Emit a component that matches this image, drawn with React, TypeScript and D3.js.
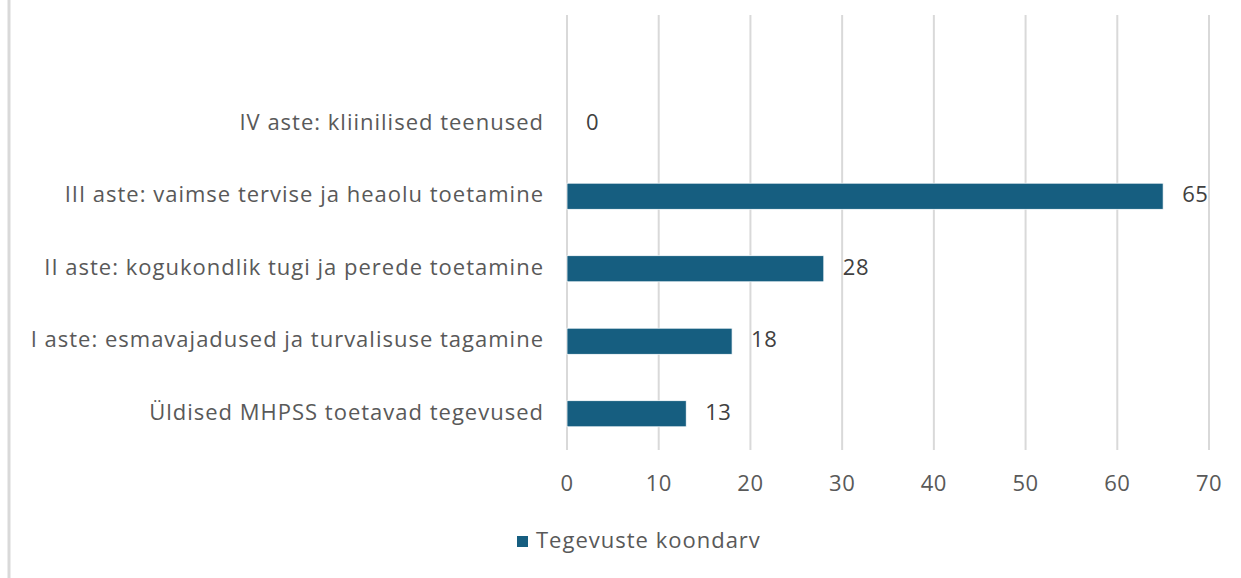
import * as d3 from 'd3'

const categories = [
  '',
  'IV aste: kliinilised teenused',
  'III aste: vaimse tervise ja heaolu toetamine',
  'II aste: kogukondlik tugi ja perede toetamine',
  'I aste: esmavajadused ja turvalisuse tagamine',
  'Üldised MHPSS toetavad tegevused',
]
const values = [null, 0, 65, 28, 18, 13]
const xTicks = [0, 10, 20, 30, 40, 50, 60, 70]
const seriesName = 'Tegevuste koondarv'

const W = 1241
const H = 578
const FONT = '"Open Sans", "Liberation Sans", Arial, sans-serif'
const TEXT = '#595959'
const GRID = '#d9d9d9'
const BAR = '#165e80'
const FS = 22
const LS = 1

export default function App() {
  const x = d3.scaleLinear().domain([0, 70]).range([567, 1209])
  const y = d3.scaleBand().domain(categories).range([15, 450]).paddingInner(0.64).paddingOuter(0.32)

  return (
    <svg
      width={W}
      height={H}
      style={{ position: 'absolute', left: 0, top: 0, background: '#fff' }}
      fontFamily={FONT}
    >
      <rect width={W} height={H} fill="#fff" />
      <line x1={9} x2={9} y1={0} y2={H} stroke={GRID} strokeWidth={3} />

      {xTicks.map((t) => (
        <g key={t}>
          <line x1={x(t)} x2={x(t)} y1={15} y2={450} stroke={GRID} strokeWidth={2} />
          <text x={x(t)} y={485} textAnchor="middle" dominantBaseline="middle" fontSize={FS} letterSpacing={0.5} fill={TEXT}>
            {t}
          </text>
        </g>
      ))}

      {categories.map((c, i) => {
        const v = values[i]
        if (v === null) return null
        const yc = (y(c) ?? 0) + y.bandwidth() / 2
        return (
          <g key={c}>
            <text x={543 + LS} y={yc} textAnchor="end" dominantBaseline="middle" fontSize={FS} letterSpacing={LS} fill={TEXT}>
              {c}
            </text>
            {v > 0 ? (
              <rect
                x={x(0)}
                y={y(c)}
                width={x(v) - x(0)}
                height={y.bandwidth()}
                fill={BAR}
                stroke="#ffffff"
                strokeWidth={0.75}
              />
            ) : null}
            <text x={x(v) + 19} y={yc} dominantBaseline="middle" fontSize={FS} letterSpacing={0.5} fill="#404040">
              {v}
            </text>
          </g>
        )
      })}

      <rect x={517} y={536} width={11} height={11} fill={BAR} />
      <text x={536} y={542} dominantBaseline="middle" fontSize={FS} letterSpacing={LS} fill={TEXT}>
        {seriesName}
      </text>
    </svg>
  )
}
